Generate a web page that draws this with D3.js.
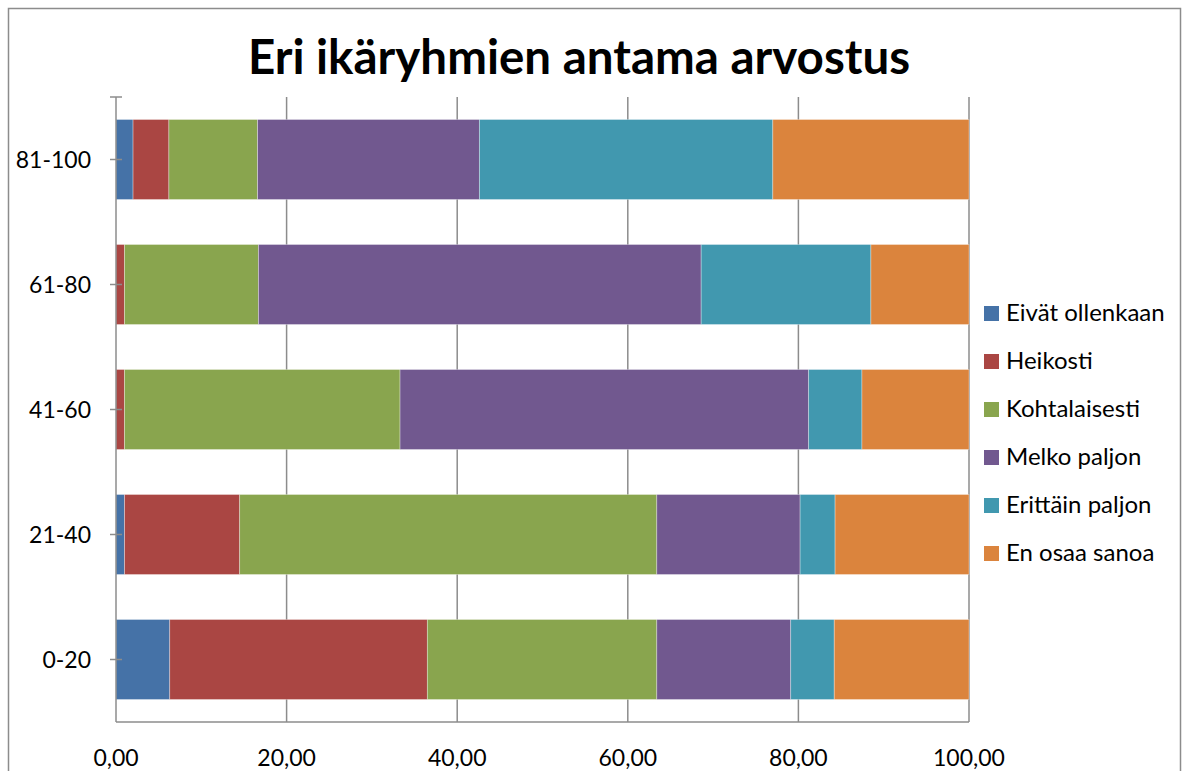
<!DOCTYPE html>
<meta charset="utf-8">
<style>
  body { margin: 0; background: #fff; }
  text { font-family: Lato, "Open Sans", sans-serif; fill: #000; }
</style>
<body>
<script src="https://cdn.jsdelivr.net/npm/d3@7"></script>
<script>

// age groups, bottom to top as in the picture
var groups = ["0-20", "21-40", "41-60", "61-80", "81-100"];

// answer categories (stack order, left to right)
var answers = ["Eivät ollenkaan", "Heikosti", "Kohtalaisesti", "Melko paljon", "Erittäin paljon", "En osaa sanoa"];

// percentages per age group, one array per answer
var eivat    = [6.3, 1.0, 0.0, 0.0, 2.0];
var heikosti = [30.2, 13.5, 1.0, 1.0, 4.2];
var kohtal   = [26.9, 48.9, 32.3, 15.7, 10.4];
var melko    = [15.7, 16.8, 47.9, 51.9, 26.0];
var erittain = [5.1, 4.1, 6.25, 19.9, 34.4];
var enosaa   = [15.8, 15.7, 12.55, 11.5, 23.0];

var xTicks = [0, 20, 40, 60, 80, 100];
var colors = ["#4572A7", "#AA4643", "#89A54E", "#71588F", "#4198AF", "#DB843D"];

var W = 1186, H = 771;
var margin = {top: 97, left: 116, right: 217, bottom: 49};
var width = W - margin.left - margin.right,
    height = H - margin.top - margin.bottom;

var svg = d3.select("body").append("svg")
    .attr("width", W)
    .attr("height", H);

// chart border
svg.append("rect")
    .attr("x", 8.5).attr("y", 8.5)
    .attr("width", 1172).attr("height", 800)
    .attr("fill", "none")
    .attr("stroke", "#8c8c8c")
    .attr("stroke-width", 1.5);

svg.append("text")
    .attr("x", 579).attr("y", 74)
    .attr("text-anchor", "middle")
    .style("font-size", "47.5px")
    .style("font-weight", "bold")
    .text("Eri ikäryhmien antama arvostus");

var g = svg.append("g")
    .attr("transform", "translate(" + margin.left + "," + margin.top + ")");

var x = d3.scaleLinear().domain([0, 100]).range([0, width]);
var y = d3.scaleBand().domain(groups.slice().reverse()).range([0, height]).paddingInner(0.36).paddingOuter(0.18);

// table for the stack
var series = [eivat, heikosti, kohtal, melko, erittain, enosaa];
var table = groups.map(function(grp, i) {
  var row = {group: grp};
  answers.forEach(function(a, j) { row[a] = series[j][i]; });
  return row;
});
var stacked = d3.stack().keys(answers)(table);

// vertical gridlines
g.selectAll(".grid")
    .data(xTicks.slice(1))
  .enter().append("line")
    .attr("x1", function(d) { return x(d); })
    .attr("x2", function(d) { return x(d); })
    .attr("y1", 0).attr("y2", height)
    .attr("stroke", "#8c8c8c")
    .attr("stroke-width", 1.5);

g.selectAll(".layer")
    .data(stacked)
  .enter().append("g")
    .attr("fill", function(d, i) { return colors[i]; })
  .selectAll("rect")
    .data(function(d) { return d; })
  .enter().append("rect")
    .attr("x", function(d) { return x(d[0]); })
    .attr("width", function(d) { return x(d[1]) - x(d[0]); })
    .attr("y", function(d) { return y(d.data.group); })
    .attr("height", y.bandwidth())
    .attr("stroke", "rgba(255,255,255,0.4)")
    .attr("stroke-width", 0.8);

// bottom axis line
g.append("line")
    .attr("x1", 0).attr("x2", width)
    .attr("y1", height).attr("y2", height)
    .attr("stroke", "#8c8c8c").attr("stroke-width", 1.5);

// left axis line with ticks
g.append("line")
    .attr("x1", 0).attr("x2", 0)
    .attr("y1", 0).attr("y2", height)
    .attr("stroke", "#8c8c8c").attr("stroke-width", 1.5);
g.append("line")
    .attr("x1", -6).attr("x2", 6)
    .attr("y1", 0).attr("y2", 0)
    .attr("stroke", "#8c8c8c").attr("stroke-width", 1.5);
g.selectAll(".ytick")
    .data(groups)
  .enter().append("line")
    .attr("x1", -6).attr("x2", 6)
    .attr("y1", function(d) { return y(d) + y.bandwidth() / 2; })
    .attr("y2", function(d) { return y(d) + y.bandwidth() / 2; })
    .attr("stroke", "#8c8c8c").attr("stroke-width", 1.5);

g.selectAll(".ylab")
    .data(groups)
  .enter().append("text")
    .attr("x", -25)
    .attr("y", function(d) { return y(d) + y.bandwidth() / 2; })
    .attr("dy", "0.35em")
    .attr("text-anchor", "end")
    .style("font-size", "23px")
    .text(function(d) { return d; });

g.selectAll(".xlab")
    .data(xTicks)
  .enter().append("text")
    .attr("x", function(d) { return x(d); })
    .attr("y", height + 44)
    .attr("text-anchor", "middle")
    .style("font-size", "23px")
    .text(function(d) { return d3.format(".2f")(d).replace(".", ","); });

// legend
var legend = svg.selectAll(".legend")
    .data(answers)
  .enter().append("g")
    .attr("transform", function(d, i) { return "translate(984," + (313 + i * 48) + ")"; });
legend.append("rect")
    .attr("x", 0).attr("y", -7)
    .attr("width", 15).attr("height", 15)
    .attr("fill", function(d, i) { return colors[i]; });
legend.append("text")
    .attr("x", 22).attr("y", 0)
    .attr("dy", "0.35em")
    .style("font-size", "24px")
    .text(function(d) { return d; });

</script>
</body>
